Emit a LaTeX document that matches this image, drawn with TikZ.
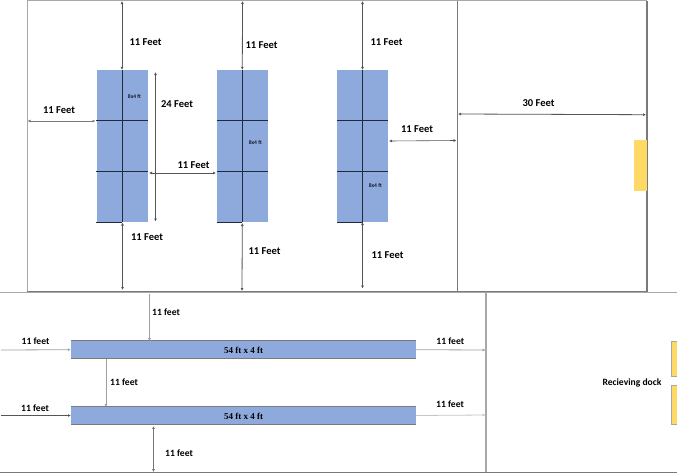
\documentclass[tikz,border=0pt]{standalone}
\usepackage{fontspec}
\setmainfont{Carlito}
\newfontfamily\serifbold{Liberation Serif}
\usetikzlibrary{arrows.meta}
\tikzset{
  x=1pt,y=-1pt,
  rack/.style={fill=rackblue,draw=none,inner sep=0pt,minimum width=51pt,minimum height=152pt},
  bar/.style={fill=rackblue,draw=none,inner sep=0pt,minimum width=345pt,minimum height=17.5pt},
  dock/.style={fill=dockyellow,draw=none,inner sep=0pt},
  wall/.style={draw=wallgray,line width=1.1pt},
  thinwall/.style={draw=edgegray,line width=0.7pt},
  split/.style={draw=splitblack,line width=0.9pt},
  dim/.style={draw=dimgray,line width=0.8pt,{Latex[length=3pt,width=3pt]}-{Latex[length=3pt,width=3pt]}},
  dimlight/.style={draw=lightdim,line width=0.8pt,-{Latex[length=2.8pt,width=2.8pt]}},
  lab/.style={font=\bfseries\fontsize{10.5}{12}\selectfont,text=black,inner sep=0pt},
  tiny/.style={font=\bfseries\fontsize{5.6}{6}\selectfont,text=tinytext,inner sep=0pt},
  barlab/.style={font=\serifbold\bfseries\fontsize{9}{11}\selectfont,text=black,inner sep=0pt},
  lowlab/.style={font=\fontsize{9.6}{12}\selectfont\bfseries,text=black,inner sep=0pt},
}
\definecolor{rackblue}{HTML}{8EA9DB}
\definecolor{dockyellow}{HTML}{FFD966}
\definecolor{wallgray}{HTML}{7A7A7A}
\definecolor{edgegray}{HTML}{A8A8A8}
\definecolor{splitblack}{HTML}{1F2A3A}
\definecolor{dimgray}{HTML}{555555}
\definecolor{lightdim}{HTML}{A0A0A0}
\definecolor{tinytext}{HTML}{141C30}
\begin{document}
\begin{tikzpicture}
\useasboundingbox (0,0) rectangle (677,474);
\fill[white] (0,0) rectangle (677,474);
% upper room
\coordinate (tl) at (27,0.7);
\coordinate (tr) at (647,0.7);
\coordinate (bl) at (27,291.5);
\coordinate (br) at (647,291.5);
\coordinate (dt) at (457.5,0.7);
\coordinate (db) at (457.5,291.5);
\draw[thinwall] (tl) -- (tr);
\draw[thinwall] (tl) -- (bl);
\draw[wall] (bl) -- (br) -- (tr);
\draw[wall] (dt) -- (db);
% racks
\node[rack] (r1) at (122,146) {};
\node[rack] (r2) at (242.3,146) {};
\node[rack] (r3) at (362.5,146) {};
\node[dock] (y1) at (640.3,165) [minimum width=12.8pt,minimum height=51pt] {};
\foreach \r in {r1,r2,r3}{
  \draw[split] ([yshift=-51pt]\r.north west) -- ([yshift=-51pt]\r.north east);
  \draw[split,line width=0.8pt] ([yshift=51pt]\r.south west) -- ([yshift=51pt]\r.south east);
  \draw[split] (\r.south west) -- (\r.south);
  \draw[split,line width=0.7pt] (\r.north) -- (\r.south);
}
% dimension anchors
\coordinate (a1t) at (122,1); \coordinate (a2t) at (242.5,1); \coordinate (a3t) at (362.5,1);
\coordinate (a1b) at (122.5,290); \coordinate (a2b) at (242,291); \coordinate (a3b) at (362.5,288.5);
\coordinate (a1c) at (122.5,222.5); \coordinate (a2c) at (242.3,223); \coordinate (a3c) at (362.5,222);
\coordinate (hl1) at (27.5,121); \coordinate (hl2) at (95.5,121);
\coordinate (hm1) at (149,173); \coordinate (hm2) at (216,173);
\coordinate (hr1) at (389,141); \coordinate (hr2) at (456.5,140.5);
\coordinate (h30a) at (458,114); \coordinate (h30b) at (646,114.7);
\coordinate (v24a) at (155.5,72); \coordinate (v24b) at (155.5,221.5);
\draw[dim] (a1t) -- (r1.north);
\draw[dim] (a2t) -- (r2.north);
\draw[dim] (a3t) -- (r3.north);
\draw[dim] (a1c) -- (a1b);
\draw[dim] (a2c) -- (a2b);
\draw[dim] (a3c) -- (a3b);
\draw[dim,draw=wallgray] (hl1) -- (hl2);
\draw[dim,line width=0.6pt] (hm1) -- (hm2);
\draw[dim,line width=0.6pt] (hr1) -- (hr2);
\draw[dim] (h30a) -- (h30b);
\draw[dim] (v24a) -- (v24b);
% labels upper
\node[lab] (l1) at (145.5,42) {11 Feet};
\node[lab] (l2) at (261.5,45) {11 Feet};
\node[lab] (l3) at (386.5,42) {11 Feet};
\node[lab] (l4) at (59,110) {11 Feet};
\node[lab] (l5) at (177,104.5) {24 Feet};
\node[lab] (l6) at (193.5,165.5) {11 Feet};
\node[lab] (l7) at (417,129) {11 Feet};
\node[lab] (l8) at (538.5,103.5) {30 Feet};
\node[lab] (l9) at (147,237) {11 Feet};
\node[lab] (l10) at (264.5,251) {11 Feet};
\node[lab] (l11) at (387.5,255.5) {11 Feet};
\node[tiny] (t1) at (134.5,97) {8x4 ft};
\node[tiny] (t2) at (255.3,142.5) {8x4 ft};
\node[tiny] (t3) at (375.3,185.5) {8x4 ft};
% lower room
\coordinate (lt0) at (0,292.7); \coordinate (lt1) at (677,292.7);
\coordinate (lb0) at (0,472.3); \coordinate (lb1) at (677,472.3);
\coordinate (mt) at (486,292.7); \coordinate (mb) at (486,472.3);
\draw[thinwall] (lt0) -- (lt1);
\draw[wall] (lb0) -- (lb1);
\draw[wall,draw=edgegray] (mt) -- (mb);
\node[bar] (b1) at (243.5,349.7) {};
\node[bar] (b2) at (243.5,415.5) {};
\foreach \b in {b1,b2}{
  \draw[wallgray,line width=0.7pt] (\b.north west) -- (\b.north east);
  \draw[wallgray,line width=0.5pt] (\b.south west) -- (\b.south east);
}
\node[barlab] (bl1) at (243.5,350.5) {54 ft x 4 ft};
\node[barlab] (bl2) at (243.5,416) {54 ft x 4 ft};
\node[dock,draw=edgegray,line width=0.5pt,minimum width=8pt,minimum height=35pt] (y2) at (675,358.5) {};
\node[dock,draw=edgegray,line width=0.5pt,minimum width=8pt,minimum height=39.5pt] (y3) at (675,404.5) {};
\coordinate (w1) at (1,350); \coordinate (w2) at (1,415.5);
\coordinate (e1) at (485.5,350); \coordinate (e2) at (485.5,415);
\coordinate (v1t) at (149.5,294); \coordinate (v1b) at (149.5,341);
\coordinate (v2t) at (106,359); \coordinate (v2b) at (106,407);
\coordinate (v3t) at (153.5,426); \coordinate (v3b) at (153.5,472);
\draw[dimlight,line width=0.6pt] (v1t) -- (v1b);
\draw[dimlight] (v2t) -- (v2b);
\draw[dimlight,draw=dimgray!80,line width=0.6pt,{Latex[length=2.8pt,width=2.8pt]}-{Latex[length=2.8pt,width=2.8pt]}] (v3t) -- (v3b);
\draw[dimlight] (w1) -- (b1.west);
\draw[dimlight,draw=dimgray,line width=0.6pt] (w2) -- (b2.west);
\draw[dimlight] (b1.east) -- (e1);
\draw[dimlight,draw=lightdim!60] (b2.east) -- (e2);
\node[lowlab] (n1) at (166,312) {11 feet};
\node[lowlab] (n2) at (35.5,341.5) {11 feet};
\node[lowlab] (n3) at (124,382.5) {11 feet};
\node[lowlab] (n4) at (35,408) {11 feet};
\node[lowlab] (n5) at (179,453) {11 feet};
\node[lowlab] (n6) at (450.3,341) {11 feet};
\node[lowlab] (n7) at (450,404.5) {11 feet};
\node[lowlab] (n8) at (632,382.5) {Recieving dock};
\end{tikzpicture}
\end{document}
